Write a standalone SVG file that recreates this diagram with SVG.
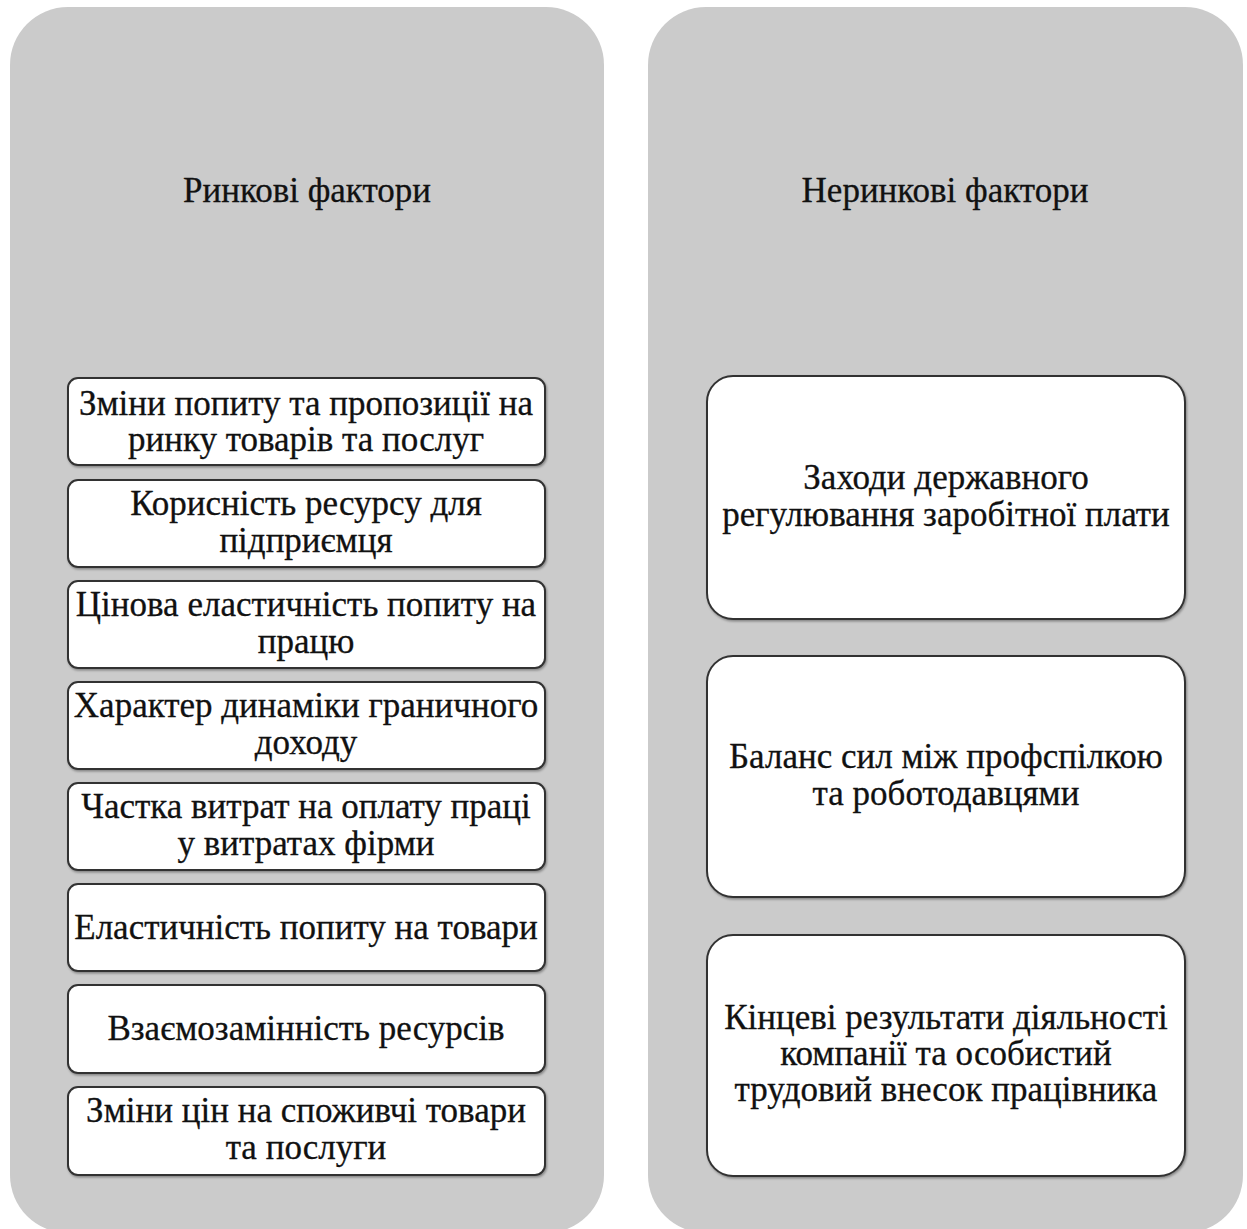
<svg xmlns="http://www.w3.org/2000/svg" width="1247" height="1229" viewBox="0 0 1247 1229">
<defs>
<filter id="sh" x="-5%" y="-5%" width="110%" height="110%">
<feDropShadow dx="1" dy="1.5" stdDeviation="1" flood-color="#000" flood-opacity="0.35"/>
</filter>
</defs>
<style>
.panel{fill:#cbcbcb}
.box{fill:#fff;stroke:#333;stroke-width:2;filter:url(#sh)}
text{font-family:"Liberation Serif","Times New Roman",serif;font-size:35px;fill:#111;stroke:#111;stroke-width:0.3;text-anchor:middle}
</style>
<rect width="1247" height="1229" fill="#fff"/>
<g id="panel-market">
<rect class="panel" x="10" y="7" width="594" height="1226" rx="58" ry="58"/>
<text x="307" y="202">Ринкові фактори</text>
</g>
<g id="panel-nonmarket">
<rect class="panel" x="648" y="7" width="595" height="1226" rx="58" ry="58"/>
<text x="945" y="202">Неринкові фактори</text>
</g>
<g id="connectors"></g>
<g id="m1"><rect class="box" x="68" y="378" width="477" height="87" rx="10"/><text x="306" y="415">Зміни попиту та пропозиції на</text><text x="306" y="451">ринку товарів та послуг</text></g>
<g id="m2"><rect class="box" x="68" y="480" width="477" height="87" rx="10"/><text x="306" y="515">Корисність ресурсу для</text><text x="306" y="552">підприємця</text></g>
<g id="m3"><rect class="box" x="68" y="581" width="477" height="87" rx="10"/><text x="306" y="616">Цінова еластичність попиту на</text><text x="306" y="653">працю</text></g>
<g id="m4"><rect class="box" x="68" y="682" width="477" height="87" rx="10"/><text x="306" y="717">Характер динаміки граничного</text><text x="306" y="754">доходу</text></g>
<g id="m5"><rect class="box" x="68" y="783" width="477" height="87" rx="10"/><text x="306" y="818">Частка витрат на оплату праці</text><text x="306" y="855">у витратах фірми</text></g>
<g id="m6"><rect class="box" x="68" y="884" width="477" height="87" rx="10"/><text x="306" y="939">Еластичність попиту на товари</text></g>
<g id="m7"><rect class="box" x="68" y="985" width="477" height="88" rx="10"/><text x="306" y="1040">Взаємозамінність ресурсів</text></g>
<g id="m8"><rect class="box" x="68" y="1087" width="477" height="88" rx="10"/><text x="306" y="1122">Зміни цін на споживчі товари</text><text x="306" y="1159">та послуги</text></g>
<g id="n1"><rect class="box" x="707" y="376" width="478" height="243" rx="26"/><text x="946" y="489">Заходи державного</text><text x="946" y="526">регулювання заробітної плати</text></g>
<g id="n2"><rect class="box" x="707" y="656" width="478" height="241" rx="26"/><text x="946" y="768">Баланс сил між профспілкою</text><text x="946" y="805">та роботодавцями</text></g>
<g id="n3"><rect class="box" x="707" y="935" width="478" height="241" rx="26"/><text x="946" y="1029">Кінцеві результати діяльності</text><text x="946" y="1065">компанії та особистий</text><text x="946" y="1101">трудовий внесок працівника</text></g>
</svg>
